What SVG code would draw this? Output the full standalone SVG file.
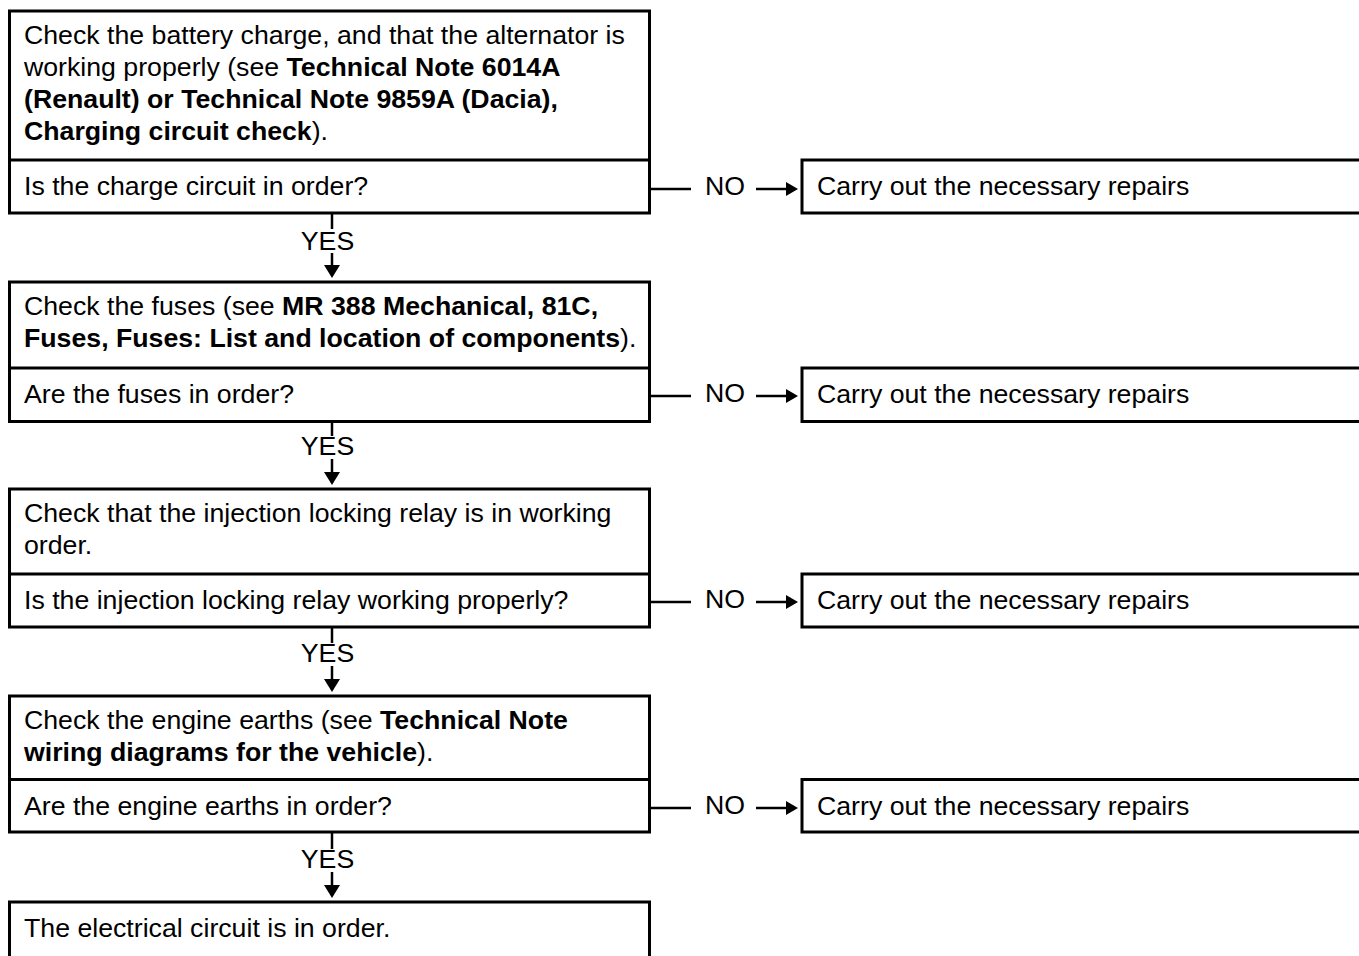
<svg xmlns="http://www.w3.org/2000/svg" width="1359" height="956" viewBox="0 0 1359 956">
<style>
.box{fill:#fff;stroke:#000;stroke-width:3}
.ln{stroke:#000;stroke-width:2.5;fill:none}
text{font-family:"Liberation Sans",Arial,sans-serif;font-size:26.7px;fill:#000}
.b{font-weight:bold}
.ah{fill:#000}
</style>
<rect width="1359" height="956" fill="#fff"/>
<g id="step1">
<rect class="box" x="9.5" y="11" width="640" height="202"/>
<line class="ln" x1="9.5" y1="160" x2="649.5" y2="160" style="stroke-width:3"/>
<text x="24" y="44">Check the battery charge, and that the alternator is</text>
<text x="24" y="76">working properly (see <tspan class="b">Technical Note 6014A</tspan></text>
<text x="24" y="108" class="b">(Renault) or Technical Note 9859A (Dacia),</text>
<text x="24" y="140"><tspan class="b">Charging circuit check</tspan>).</text>
<text x="24" y="195">Is the charge circuit in order?</text>
</g>
<g id="repair1">
<rect class="box" x="802" y="160" width="570" height="53"/>
<text x="817" y="195">Carry out the necessary repairs</text>
</g>
<g id="step2">
<rect class="box" x="9.5" y="282" width="640" height="139.5"/>
<line class="ln" x1="9.5" y1="368" x2="649.5" y2="368" style="stroke-width:3"/>
<text x="24" y="315">Check the fuses (see <tspan class="b">MR 388 Mechanical, 81C,</tspan></text>
<text x="24" y="347"><tspan class="b">Fuses, Fuses: List and location of components</tspan>).</text>
<text x="24" y="403">Are the fuses in order?</text>
</g>
<g id="repair2">
<rect class="box" x="802" y="368" width="570" height="53.5"/>
<text x="817" y="403">Carry out the necessary repairs</text>
</g>
<g id="step3">
<rect class="box" x="9.5" y="489" width="640" height="138"/>
<line class="ln" x1="9.5" y1="574" x2="649.5" y2="574" style="stroke-width:3"/>
<text x="24" y="522">Check that the injection locking relay is in working</text>
<text x="24" y="554">order.</text>
<text x="24" y="609">Is the injection locking relay working properly?</text>
</g>
<g id="repair3">
<rect class="box" x="802" y="574" width="570" height="53"/>
<text x="817" y="609">Carry out the necessary repairs</text>
</g>
<g id="step4">
<rect class="box" x="9.5" y="696" width="640" height="136"/>
<line class="ln" x1="9.5" y1="779.5" x2="649.5" y2="779.5" style="stroke-width:3"/>
<text x="24" y="729">Check the engine earths (see <tspan class="b">Technical Note</tspan></text>
<text x="24" y="761"><tspan class="b">wiring diagrams for the vehicle</tspan>).</text>
<text x="24" y="814.5">Are the engine earths in order?</text>
</g>
<g id="repair4">
<rect class="box" x="802" y="779.5" width="570" height="52.5"/>
<text x="817" y="814.5">Carry out the necessary repairs</text>
</g>
<g id="result">
<rect class="box" x="9.5" y="902" width="640" height="80"/>
<text x="24" y="937">The electrical circuit is in order.</text>
</g>
<g id="connectors">
<line class="ln" x1="651" y1="189" x2="691" y2="189"/>
<text x="725" y="195" text-anchor="middle">NO</text>
<line class="ln" x1="756" y1="189" x2="788" y2="189"/>
<polygon class="ah" points="786,182 798,189 786,196"/>
<line class="ln" x1="651" y1="396" x2="691" y2="396"/>
<text x="725" y="402" text-anchor="middle">NO</text>
<line class="ln" x1="756" y1="396" x2="788" y2="396"/>
<polygon class="ah" points="786,389 798,396 786,403"/>
<line class="ln" x1="651" y1="602" x2="691" y2="602"/>
<text x="725" y="608" text-anchor="middle">NO</text>
<line class="ln" x1="756" y1="602" x2="788" y2="602"/>
<polygon class="ah" points="786,595 798,602 786,609"/>
<line class="ln" x1="651" y1="808" x2="691" y2="808"/>
<text x="725" y="814" text-anchor="middle">NO</text>
<line class="ln" x1="756" y1="808" x2="788" y2="808"/>
<polygon class="ah" points="786,801 798,808 786,815"/>
<line class="ln" x1="332" y1="214" x2="332" y2="229"/>
<text x="327.5" y="250" text-anchor="middle">YES</text>
<line class="ln" x1="332" y1="253" x2="332" y2="267"/>
<polygon class="ah" points="324,265 340,265 332,278"/>
<line class="ln" x1="332" y1="422" x2="332" y2="436"/>
<text x="327.5" y="455" text-anchor="middle">YES</text>
<line class="ln" x1="332" y1="459" x2="332" y2="474"/>
<polygon class="ah" points="324,472 340,472 332,485"/>
<line class="ln" x1="332" y1="628" x2="332" y2="643"/>
<text x="327.5" y="662" text-anchor="middle">YES</text>
<line class="ln" x1="332" y1="666" x2="332" y2="681"/>
<polygon class="ah" points="324,679 340,679 332,692"/>
<line class="ln" x1="332" y1="833" x2="332" y2="849"/>
<text x="327.5" y="868" text-anchor="middle">YES</text>
<line class="ln" x1="332" y1="872" x2="332" y2="887"/>
<polygon class="ah" points="324,885 340,885 332,898"/>
</g>
</svg>
